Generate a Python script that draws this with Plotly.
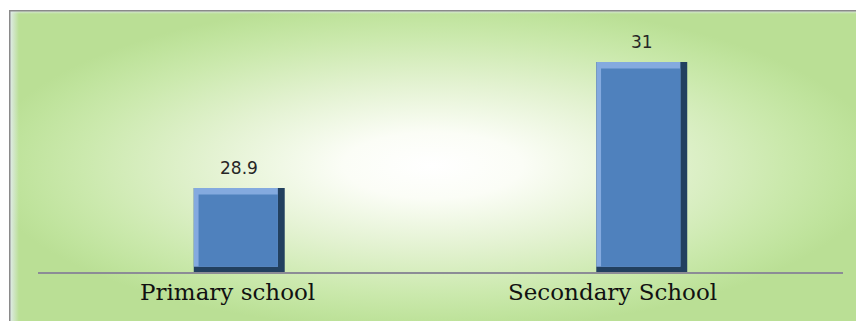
import plotly.graph_objects as go
from urllib.parse import quote

# Data
categories = ["Primary school", "Secondary School"]
values = [28.9, 31]

# Axis range for the value scale
y_min, y_max = 27.5, 31.5

# Bar styling (bevelled look built from stacked overlay bars)
BAR_W = 0.226
EDGE_X = 0.017
EDGE_Y = 0.11
DARK = "#22405f"
LIGHT = "#84aadf"
FACE = "#4f81bd"
inner_base = y_min + EDGE_Y * 0.8

# Horizontal nudges of the category captions (px)
caption_shift = [-12, -29]

fig = go.Figure()

fig.add_trace(go.Bar(
    x=categories, y=values, width=BAR_W, offset=-BAR_W / 2,
    marker=dict(color=DARK, line=dict(width=0)), hoverinfo="skip",
))
fig.add_trace(go.Bar(
    x=categories, y=[v - inner_base for v in values], base=inner_base,
    width=BAR_W - EDGE_X, offset=-BAR_W / 2,
    marker=dict(color=LIGHT, line=dict(width=0)), hoverinfo="skip",
))
fig.add_trace(go.Bar(
    x=categories, y=[v - EDGE_Y - inner_base for v in values], base=inner_base,
    width=BAR_W - EDGE_X * 1.7, offset=-BAR_W / 2 + EDGE_X * 0.7,
    marker=dict(color=FACE, line=dict(width=0)),
))

# Value labels above the bars
for c, v in zip(categories, values):
    fig.add_annotation(
        x=c, y=v, xref="x", yref="y", text=f"{v:g}", showarrow=False,
        yanchor="bottom", yshift=8,
        font=dict(family="DejaVu Sans", size=17, color="#262626"),
    )

# Category captions under the axis
for c, dx in zip(categories, caption_shift):
    fig.add_annotation(
        x=c, y=0, xref="x", yref="paper", text=c, showarrow=False,
        yanchor="top", yshift=-5, xshift=dx,
        font=dict(family="DejaVu Serif", size=23, color="#111111"),
    )

# Radial green-to-white backdrop with a thin grey frame on the top/left
W, H = 847, 311
svg = (
    f"<svg xmlns='http://www.w3.org/2000/svg' width='{W}' height='{H}' "
    f"viewBox='0 0 {W} {H}' preserveAspectRatio='none'>"
    "<defs>"
    "<radialGradient id='g' cx='0.5' cy='0.5' r='0.53' fx='0.5' fy='0.5'>"
    "<stop offset='0' stop-color='#ffffff'/>"
    "<stop offset='0.2' stop-color='#fbfdf6'/>"
    "<stop offset='0.5' stop-color='#e3f2d1'/>"
    "<stop offset='0.78' stop-color='#cbe9ad'/>"
    "<stop offset='0.93' stop-color='#bfe39c'/>"
    "<stop offset='1' stop-color='#badf95'/>"
    "</radialGradient>"
    "<linearGradient id='l' x1='0' y1='0' x2='1' y2='0'>"
    "<stop offset='0' stop-color='#e4ecf2' stop-opacity='1'/>"
    "<stop offset='1' stop-color='#e4ecf2' stop-opacity='0'/>"
    "</linearGradient>"
    "<linearGradient id='t' x1='0' y1='0' x2='0' y2='1'>"
    "<stop offset='0' stop-color='#e4ecf2' stop-opacity='1'/>"
    "<stop offset='1' stop-color='#e4ecf2' stop-opacity='0'/>"
    "</linearGradient>"
    "</defs>"
    f"<rect x='0' y='0' width='{W}' height='{H}' fill='url(#g)'/>"
    f"<rect x='0' y='0' width='10' height='{H}' fill='url(#l)'/>"
    f"<rect x='0' y='0' width='{W}' height='4' fill='url(#t)'/>"
    f"<line x1='0.75' y1='0' x2='0.75' y2='{H}' stroke='#8a8a8a' stroke-width='1.5'/>"
    f"<line x1='0' y1='0.75' x2='{W}' y2='0.75' stroke='#8a8a8a' stroke-width='1.5'/>"
    "</svg>"
)
bg_src = "data:image/svg+xml;charset=utf-8," + quote(svg)

L, R, T, B = 38, 13, 32, 49
FW, FH = 856, 321
pw, ph = FW - L - R, FH - T - B

fig.add_layout_image(
    source=bg_src, xref="paper", yref="paper",
    x=(9 - L) / pw, y=(FH - B - 10) / ph,
    sizex=W / pw, sizey=H / ph,
    xanchor="left", yanchor="top", sizing="stretch", layer="below",
)

fig.update_layout(
    width=FW, height=FH,
    margin=dict(l=L, r=R, t=T, b=B, pad=0),
    barmode="overlay",
    showlegend=False,
    paper_bgcolor="white",
    plot_bgcolor="rgba(0,0,0,0)",
    xaxis=dict(
        showline=True, linecolor="#8c8c96", linewidth=1.5,
        showticklabels=False, ticks="", showgrid=False, zeroline=False,
        fixedrange=True,
    ),
    yaxis=dict(
        range=[y_min, y_max], visible=False, showgrid=False,
        zeroline=False, fixedrange=True,
    ),
)

fig.write_html("out.html")
